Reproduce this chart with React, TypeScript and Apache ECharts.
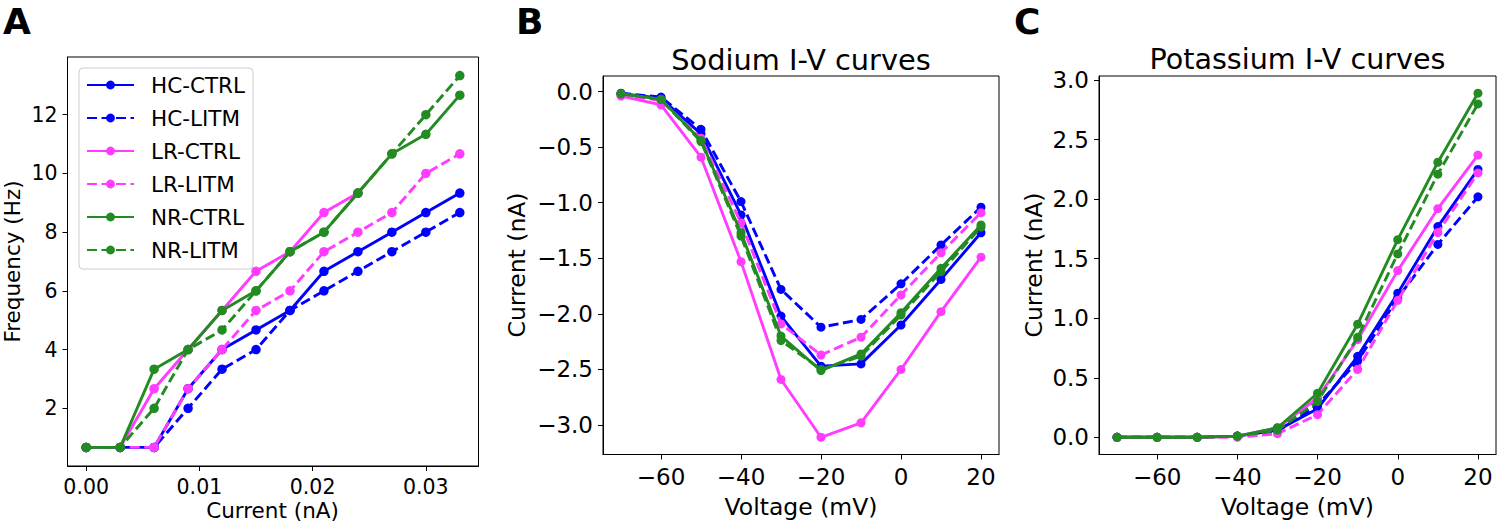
import React, { useEffect, useRef } from "react";
import * as echarts from "echarts";

// ---------- Data ----------
const SERIES_NAMES = ["HC-CTRL", "HC-LITM", "LR-CTRL", "LR-LITM", "NR-CTRL", "NR-LITM"];
const COLORS = ["#0000ff", "#0000ff", "#ff3cff", "#ff3cff", "#228b22", "#228b22"];
const DASHED = [false, true, false, true, false, true];

// Panel A: firing frequency vs injected current
const CURRENTS_NA = [0, 0.003, 0.006, 0.009, 0.012, 0.015, 0.018, 0.021, 0.024, 0.027, 0.03, 0.033];
const HC_CTRL_A = [0.667, 0.667, 0.667, 2.667, 4.0, 4.667, 5.333, 6.667, 7.333, 8.0, 8.667, 9.333];
const HC_LITM_A = [0.667, 0.667, 0.667, 2.0, 3.333, 4.0, 5.333, 6.0, 6.667, 7.333, 8.0, 8.667];
const LR_CTRL_A = [0.667, 0.667, 2.667, 4.0, 5.333, 6.667, 7.333, 8.667, 9.333];
const LR_LITM_A = [0.667, 0.667, 0.667, 2.667, 4.0, 5.333, 6.0, 7.333, 8.0, 8.667, 10.0, 10.667];
const NR_CTRL_A = [0.667, 0.667, 3.333, 4.0, 5.333, 6.0, 7.333, 8.0, 9.333, 10.667, 11.333, 12.667];
const NR_LITM_A = [0.667, 0.667, 2.0, 4.0, 4.667, 6.0, 7.333, 8.0, 9.333, 10.667, 12.0, 13.333];

// Panels B and C: voltage steps
const VOLTAGES_MV = [-70, -60, -50, -40, -30, -20, -10, 0, 10, 20];

// Panel B: sodium currents (nA)
const HC_CTRL_B = [-0.02, -0.06, -0.38, -1.11, -2.02, -2.47, -2.45, -2.1, -1.69, -1.27];
const HC_LITM_B = [-0.015, -0.05, -0.34, -0.99, -1.78, -2.12, -2.05, -1.73, -1.38, -1.04];
const LR_CTRL_B = [-0.04, -0.12, -0.59, -1.53, -2.59, -3.11, -2.98, -2.5, -1.98, -1.49];
const LR_LITM_B = [-0.03, -0.08, -0.42, -1.18, -2.09, -2.37, -2.21, -1.83, -1.45, -1.09];
const NR_CTRL_B = [-0.02, -0.07, -0.44, -1.27, -2.2, -2.51, -2.36, -1.99, -1.59, -1.2];
const NR_LITM_B = [-0.02, -0.07, -0.45, -1.3, -2.24, -2.5, -2.38, -2.01, -1.62, -1.22];

// Panel C: potassium currents (nA)
const HC_CTRL_C = [0.0, 0.0, 0.0, 0.01, 0.06, 0.24, 0.68, 1.21, 1.77, 2.25];
const HC_LITM_C = [0.0, 0.0, 0.0, 0.01, 0.05, 0.27, 0.64, 1.17, 1.62, 2.02];
const LR_CTRL_C = [0.0, 0.0, 0.0, 0.01, 0.08, 0.33, 0.82, 1.4, 1.92, 2.37];
const LR_LITM_C = [0.0, 0.0, 0.0, 0.0, 0.03, 0.19, 0.57, 1.15, 1.72, 2.22];
const NR_CTRL_C = [0.0, 0.0, 0.0, 0.01, 0.08, 0.37, 0.95, 1.66, 2.31, 2.89];
const NR_LITM_C = [0.0, 0.0, 0.0, 0.01, 0.06, 0.3, 0.84, 1.54, 2.21, 2.8];

// Tick labels
const A_X_TICKS = [0, 0.01, 0.02, 0.03];
const A_Y_TICKS = [2, 4, 6, 8, 10, 12];
const BC_X_TICKS = [-60, -40, -20, 0, 20];
const B_Y_TICKS = [0, -0.5, -1.0, -1.5, -2.0, -2.5, -3.0];
const C_Y_TICKS = [0, 0.5, 1.0, 1.5, 2.0, 2.5, 3.0];

const PANEL_TITLES = ["Sodium I-V curves", "Potassium I-V curves"];
const PANEL_LETTERS = ["A", "B", "C"];

const FONT = "'DejaVu Sans'";

const minus = (s: string) => s.replace("-", "\u2212");

function buildSeries(panel: number, xs: number[], sets: number[][], symbolSize: number) {
  return sets.map((ys, i) => ({
    type: "line",
    name: SERIES_NAMES[i],
    xAxisIndex: panel,
    yAxisIndex: panel,
    data: ys.map((y, k) => [xs[k], y]),
    symbol: "circle",
    symbolSize,
    showSymbol: true,
    color: COLORS[i],
    lineStyle: { color: COLORS[i], width: 2.9, type: DASHED[i] ? [10, 4.5] : "solid" },
    itemStyle: { color: COLORS[i] },
    emphasis: { disabled: true },
    z: 2 + i,
  }));
}

function axis(grid: number, min: number, max: number, ticks: number[], fmt: (v: number) => string, fontSize: number, margin: number) {
  return {
    type: "value",
    gridIndex: grid,
    min,
    max,
    axisLine: { show: true, onZero: false, lineStyle: { color: "#000", width: 1 } },
    axisTick: { show: true, length: 5, customValues: ticks, lineStyle: { color: "#000", width: 1 } },
    axisLabel: {
      show: true,
      customValues: ticks,
      formatter: (v: number) => fmt(v),
      fontSize,
      fontFamily: FONT,
      color: "#000",
      margin,
    },
    splitLine: { show: false },
  };
}

export default function App() {
  const ref = useRef<HTMLDivElement>(null);

  useEffect(() => {
    if (!ref.current) return;
    const chart = echarts.init(ref.current, undefined, { renderer: "svg" });

    const gridBase = { show: true, borderColor: "#000", borderWidth: 1, containLabel: false };

    const option = {
      animation: false,
      backgroundColor: "#fff",
      grid: [
        { ...gridBase, left: 67.5, top: 57, width: 411, height: 409 },
        { ...gridBase, left: 603, top: 76, width: 396, height: 378.5 },
        { ...gridBase, left: 1099, top: 76, width: 397, height: 378.5 },
      ],
      xAxis: [
        axis(0, -0.00165, 0.03465, A_X_TICKS, (v) => v.toFixed(2), 20.5, 10),
        axis(1, -74.5, 24.5, BC_X_TICKS, (v) => minus(String(v)), 23, 11),
        axis(2, -74.5, 24.5, BC_X_TICKS, (v) => minus(String(v)), 23, 11),
      ],
      yAxis: [
        axis(0, 0.0333, 13.967, A_Y_TICKS, (v) => String(v), 20.5, 10),
        axis(1, -3.265, 0.14, B_Y_TICKS, (v) => minus(v.toFixed(1)), 23, 10),
        axis(2, -0.1445, 3.0345, C_Y_TICKS, (v) => v.toFixed(1), 23, 10),
      ],
      legend: {
        show: true,
        orient: "vertical",
        left: 79,
        top: 68,
        data: SERIES_NAMES,
        itemWidth: 47,
        itemHeight: 11,
        itemGap: 11,
        selectedMode: false,
        padding: [6, 8, 8, 7],
        backgroundColor: "rgba(255,255,255,0.8)",
        borderColor: "#cccccc",
        borderWidth: 1,
        borderRadius: 4,
        textStyle: { fontSize: 21.5, fontFamily: FONT, color: "#000", lineHeight: 22, padding: [0, 0, 0, 12] },
      },
      series: [
        ...buildSeries(0, CURRENTS_NA, [HC_CTRL_A, HC_LITM_A, LR_CTRL_A, LR_LITM_A, NR_CTRL_A, NR_LITM_A], 9.5),
        ...buildSeries(1, VOLTAGES_MV, [HC_CTRL_B, HC_LITM_B, LR_CTRL_B, LR_LITM_B, NR_CTRL_B, NR_LITM_B], 9),
        ...buildSeries(2, VOLTAGES_MV, [HC_CTRL_C, HC_LITM_C, LR_CTRL_C, LR_LITM_C, NR_CTRL_C, NR_LITM_C], 9),
      ],
      graphic: [
        { type: "text", x: 3, y: 21, style: { text: PANEL_LETTERS[0], font: `bold 36px ${FONT}`, fill: "#000", align: "left", verticalAlign: "middle" } },
        { type: "text", x: 516, y: 21, style: { text: PANEL_LETTERS[1], font: `bold 36px ${FONT}`, fill: "#000", align: "left", verticalAlign: "middle" } },
        { type: "text", x: 1014, y: 21, style: { text: PANEL_LETTERS[2], font: `bold 36px ${FONT}`, fill: "#000", align: "left", verticalAlign: "middle" } },
        { type: "text", x: 801, y: 60, style: { text: PANEL_TITLES[0], font: `28.8px ${FONT}`, fill: "#000", align: "center", verticalAlign: "middle" } },
        { type: "text", x: 1297.5, y: 59, style: { text: PANEL_TITLES[1], font: `28.6px ${FONT}`, fill: "#000", align: "center", verticalAlign: "middle" } },
        { type: "text", x: 272.5, y: 510, style: { text: "Current (nA)", font: `21.5px ${FONT}`, fill: "#000", align: "center", verticalAlign: "middle" } },
        { type: "text", x: 12, y: 261.5, rotation: Math.PI / 2, style: { text: "Frequency (Hz)", font: `21.5px ${FONT}`, fill: "#000", align: "center", verticalAlign: "middle" } },
        { type: "text", x: 801, y: 507, style: { text: "Voltage (mV)", font: `23.5px ${FONT}`, fill: "#000", align: "center", verticalAlign: "middle" } },
        { type: "text", x: 1297.5, y: 507, style: { text: "Voltage (mV)", font: `23.5px ${FONT}`, fill: "#000", align: "center", verticalAlign: "middle" } },
        { type: "text", x: 517, y: 265, rotation: Math.PI / 2, style: { text: "Current (nA)", font: `23.5px ${FONT}`, fill: "#000", align: "center", verticalAlign: "middle" } },
        { type: "text", x: 1034, y: 265, rotation: Math.PI / 2, style: { text: "Current (nA)", font: `23.5px ${FONT}`, fill: "#000", align: "center", verticalAlign: "middle" } },
      ],
    };

    chart.setOption(option as any);
    return () => chart.dispose();
  }, []);

  return (
    <div
      ref={ref}
      style={{ position: "fixed", left: 0, top: 0, width: 1500, height: 524, background: "#fff" }}
    />
  );
}
